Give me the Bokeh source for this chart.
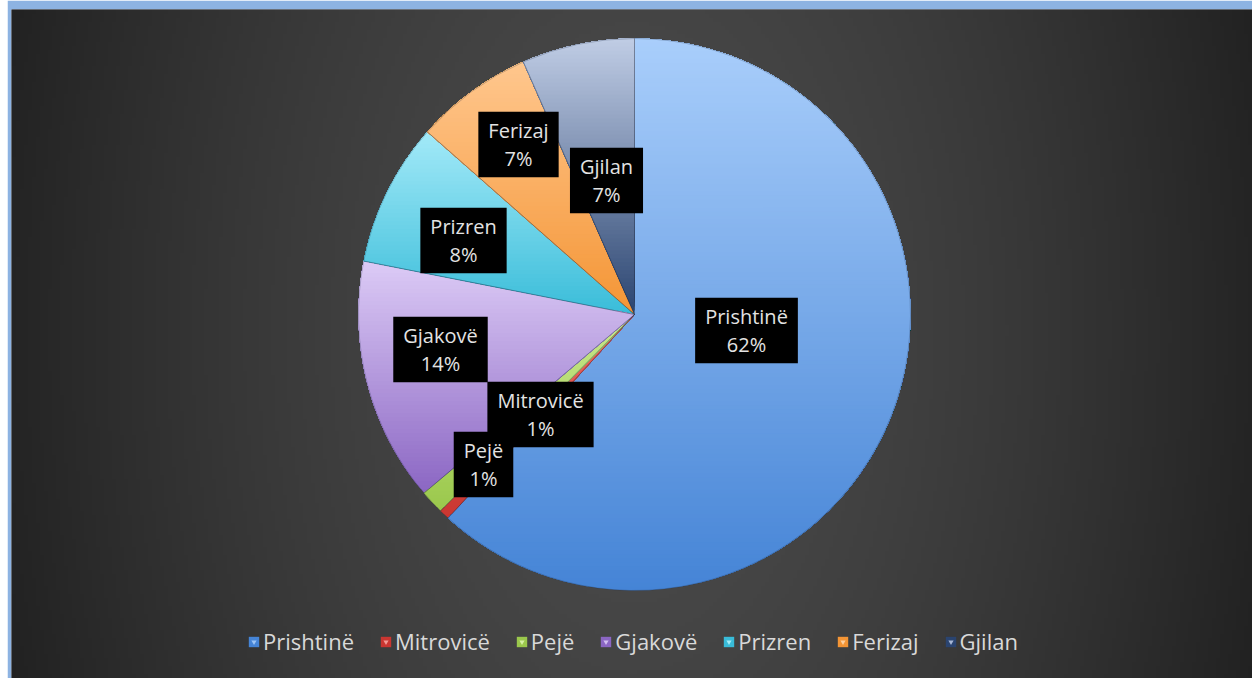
import numpy as np
from bokeh.plotting import figure
from bokeh.layouts import row
from bokeh.models import Range1d, ColumnDataSource, Legend, LegendItem, Spacer
from bokeh.core.properties import value
from bokeh.embed import file_html
from bokeh.resources import INLINE

# ---- data ----
cities = ["Prishtinë", "Mitrovicë", "Pejë", "Gjakovë", "Prizren", "Ferizaj", "Gjilan"]
shares = [61.8, 0.6, 1.4, 14.3, 8.4, 6.9, 6.6]

# ---- styles ----
bottom_colors = ["#4584d6", "#c93631", "#9bc84c", "#8b66c3", "#39bcd9", "#f49535", "#2a4470"]
top_colors = ["#a9cefb", "#ee6a63", "#c9e88c", "#dccbf6", "#a3eaf8", "#ffc78e", "#c0cde5"]
tri_colors = ["#9cc4f5", "#f29a95", "#d6f0a4", "#d2bff0", "#a5edf8", "#fdd0a0", "#a7b7d6"]
# label box centres, offset from pie centre (px)
label_dx = [112, -94, -151, -194, -171, -116, -28]
label_dy = [-16, -100, -150, -35, 74, 170, 134]

PAD_L = 7
W, H = 1245, 678
ML, MT = 4, 9
CX, CY = 634, 314   # pie centre in page px
R = 276

x0 = PAD_L + ML - CX
x1 = PAD_L + W - CX
ytop = CY - MT
ybot = CY - H

p = figure(width=W, height=H, x_range=Range1d(x0, x1), y_range=Range1d(ybot, ytop),
           output_backend="svg", toolbar_location=None,
           x_axis_location=None, y_axis_location=None,
           min_border_left=ML, min_border_top=MT, min_border_right=0, min_border_bottom=0,
           border_fill_color="#8db3e2", background_fill_color="#333333",
           outline_line_color=None)
p.grid.visible = False

# ---- background radial gradient ----
nx, ny = 311, 168
gx = np.linspace(x0, x1, nx)
gy = np.linspace(ybot, ytop, ny)
X, Y = np.meshgrid(gx, gy)
d = np.sqrt(((X + 2) / 640.0) ** 2 + ((Y + 16) / 1100.0) ** 2)
v = np.clip(75 - 40 * d ** 1.5, 30, 80).astype(np.uint8)
img = np.empty((ny, nx), dtype=np.uint32)
view = img.view(dtype=np.uint8).reshape((ny, nx, 4))
view[..., 0] = v
view[..., 1] = v
view[..., 2] = v
view[..., 3] = 255
p.image_rgba(image=[img], x=x0, y=ybot, dw=x1 - x0, dh=ytop - ybot)

# ---- pie ----
frac = np.array(shares) / np.sum(shares)
cum = np.concatenate([[0.0], np.cumsum(frac)])
start = np.pi / 2 - 2 * np.pi * cum[:-1]
end = np.pi / 2 - 2 * np.pi * cum[1:]
src = ColumnDataSource(dict(city=cities, start=start, end=end, color=bottom_colors,
                            tri=tri_colors, nanv=[np.nan] * len(cities)))
wr = p.wedge(x=0, y=0, radius=R, start_angle="start", end_angle="end", direction="clock",
             fill_color="color", line_color=None, source=src)


def clip_above(xs, ys, h):
    ox, oy = [], []
    n = len(xs)
    for i in range(n):
        xa, ya = xs[i], ys[i]
        xb, yb = xs[(i + 1) % n], ys[(i + 1) % n]
        ina, inb = ya >= h, yb >= h
        if ina:
            ox.append(float(xa))
            oy.append(float(ya))
        if ina != inb:
            t = (h - ya) / (yb - ya)
            ox.append(float(xa + t * (xb - xa)))
            oy.append(float(h))
    return ox, oy


def hex2rgb(c):
    c = c.lstrip("#")
    return np.array([int(c[k:k + 2], 16) for k in (0, 2, 4)], dtype=float)


def mix(c0, c1, t):
    v_ = hex2rgb(c0) * (1 - t) + hex2rgb(c1) * t
    return "#%02x%02x%02x" % tuple(int(round(z)) for z in v_)


# per-slice vertical gradient (light at top of slice, dark at bottom):
# nested opaque layers, each covering the slice above a level
gxs, gys, gcol = [], [], []
for i in range(len(cities)):
    n_arc = max(8, int(abs(end[i] - start[i]) * 120))
    t = np.linspace(start[i], end[i], n_arc)
    wx = np.concatenate([[0.0], R * np.cos(t)])
    wy = np.concatenate([[0.0], R * np.sin(t)])
    ymin, ymax = wy.min(), wy.max()
    K = max(12, int((ymax - ymin) / 4))
    for m in range(1, K):
        h = ymin + m / K * (ymax - ymin)
        cx_, cy_ = clip_above(wx, wy, h)
        if len(cx_) < 3:
            continue
        gxs.append(cx_)
        gys.append(cy_)
        gcol.append(mix(bottom_colors[i], top_colors[i], (m + 0.5) / K))
p.patches(xs="xs", ys="ys", fill_color="c", line_color=None,
          source=ColumnDataSource(dict(xs=gxs, ys=gys, c=gcol)))

# subtle slice edges
p.wedge(x=0, y=0, radius=R, start_angle="start", end_angle="end", direction="clock",
        fill_color=None, line_color="#1b2940", line_alpha=0.25, line_width=1, source=src)

# ---- data labels ----
lab_src = ColumnDataSource(dict(
    x=label_dx, y=label_dy,
    text=[f"{c}\n{int(round(s))}%" for c, s in zip(cities, shares)]))
p.text(x="x", y="y", text="text", source=lab_src,
       text_font=value("Open Sans"), text_font_size="20px", text_color="#e3e3e3",
       text_align="center", text_baseline="middle", text_line_height=1.05,
       background_fill_color="black",
       padding=dict(left=10, right=10, top=5, bottom=5))

# ---- legend ----
tr = p.scatter(x="nanv", y="nanv", marker="inverted_triangle", fill_color="tri",
               line_color=None, source=src)
items = [LegendItem(label=c, renderers=[wr, tr], index=i) for i, c in enumerate(cities)]
legend = Legend(items=items, orientation="horizontal", location=(236, 22),
                glyph_width=13, glyph_height=13, label_standoff=3, spacing=25,
                padding=0, margin=0, background_fill_alpha=0, border_line_alpha=0,
                label_text_color="#d9d9d9", label_text_font="Open Sans",
                label_text_font_size="22px")
p.add_layout(legend)

layout = row(Spacer(width=PAD_L, height=H), p)
open("out.html", "w").write(file_html(layout, INLINE))
